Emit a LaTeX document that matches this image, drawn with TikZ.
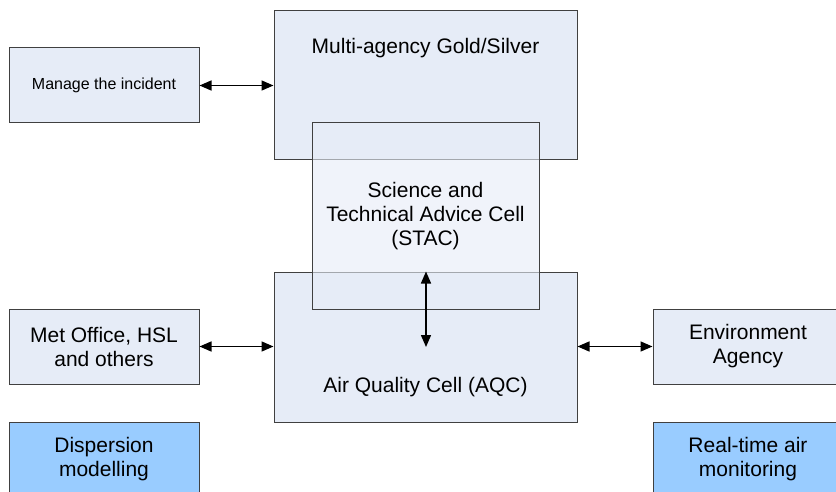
\documentclass[tikz,border=0pt]{standalone}
\usepackage{fontspec}
\setmainfont{Liberation Sans}
\usetikzlibrary{arrows.meta}
\definecolor{boxfill}{HTML}{E6ECF7}
\definecolor{bluefill}{HTML}{99CCFF}
\definecolor{boxline}{HTML}{404040}
\tikzset{
  bigtext/.style={font=\fontsize{21}{24}\selectfont},
  smalltext/.style={font=\fontsize{16}{19}\selectfont},
  box/.style={draw=boxline, line width=1pt, fill=boxfill, rectangle, inner sep=0pt, align=center, bigtext},
  bluebox/.style={box, fill=bluefill},
  link/.style={line width=1.5pt, {Triangle[length=12pt,width=10pt]}-{Triangle[length=12pt,width=10pt]}}
}
\begin{document}
\begin{tikzpicture}[x=1pt,y=-1pt]
\useasboundingbox (0,0) rectangle (836,492);
\clip (0,0) rectangle (836,492);
\fill[white] (0,0) rectangle (836,492);
% main boxes
\node[box, minimum width=303pt, minimum height=149pt,
  label={[anchor=center,yshift=-38pt,bigtext]north:Multi-agency Gold/Silver}] (gold) at (425.5,85.5) {};
\node[box, minimum width=303pt, minimum height=150pt,
  label={[anchor=center,yshift=-40pt,bigtext]center:Air Quality Cell (AQC)}] (aqc) at (425.5,347) {};
\node[box, fill opacity=0.6, text opacity=1, minimum width=227pt, minimum height=186pt] (stac) at (425.5,216)
  {Science and\\Technical Advice Cell\\(STAC)};
% side boxes
\node[box, smalltext, minimum width=190pt, minimum height=75pt] (manage) at (104,85.5) {Manage the incident};
\node[box, minimum width=190pt, minimum height=75pt] (met) at (104,346.5) {Met Office, HSL\\and others};
\node[box, minimum width=190pt, minimum height=75pt] (env) at (748,346.5) {Environment\\Agency};
\node[bluebox, minimum width=190pt, minimum height=75pt] (disp) at (104,459.5) {Dispersion\\modelling};
\node[bluebox, minimum width=190pt, minimum height=75pt] (rt) at (748,459.5) {Real-time air\\monitoring};
% connectors
\draw[link] (manage.east) -- (manage.east -| gold.west);
\draw[link] (met.east) -- (met.east -| aqc.west);
\draw[link] (met.east -| aqc.east) -- (env.west);
\coordinate (vend) at (426,347);
\draw[link] (aqc.north -| vend) -- (vend);
\end{tikzpicture}
\end{document}
